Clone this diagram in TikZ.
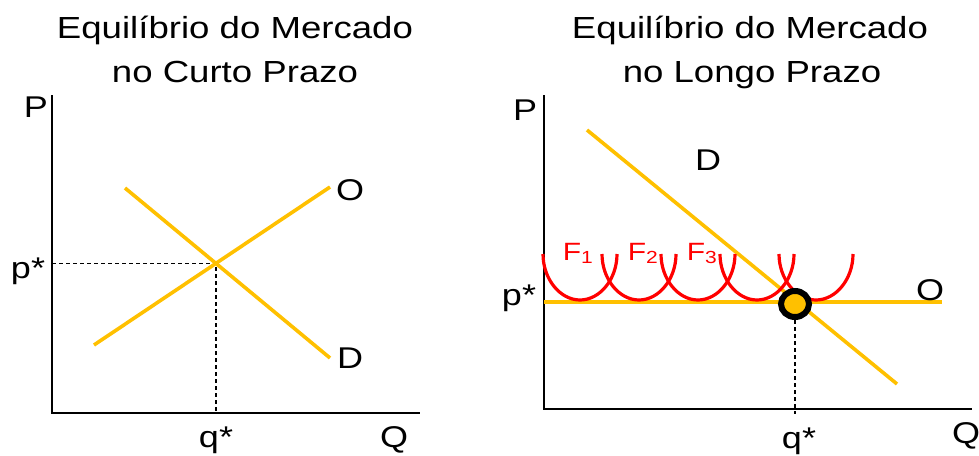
\documentclass[tikz,border=0pt]{standalone}
\usepackage{fontspec}
\setmainfont{Liberation Sans}[FakeStretch=1.2]
\usetikzlibrary{positioning,calc,shapes.geometric}
\definecolor{colCurva}{RGB}{255,192,0}
\definecolor{colFirma}{RGB}{255,0,0}
\definecolor{colEixo}{RGB}{0,0,0}

\begin{document}
\begin{tikzpicture}[x=1pt, y=-1pt,
    eixo/.style={line width=1.8pt, colEixo},
    cv/.style={line width=3.6pt, colCurva},
    tr/.style={line width=1.4pt, dash pattern=on 4pt off 3pt},
    cu/.style={line width=3.2pt, colFirma},
    tit/.style={font=\fontsize{30.5}{36}\selectfont, anchor=base, inner sep=0pt},
    rot/.style={font=\fontsize{30}{36}\selectfont, anchor=base, inner sep=0pt},
    fi/.style={font=\fontsize{25}{30}\selectfont, anchor=base, inner sep=0pt,
      colFirma},
    eqp/.style={ellipse, draw=black, line width=6pt, fill=colCurva,
      minimum width=28pt, minimum height=26pt, inner sep=0pt}]
    \useasboundingbox (0,0) rectangle (979,455);

    \node[tit] (t1a) at (235,38) {Equilíbrio do Mercado};
    \node[tit] (t1b) at (235,82) {no Curto Prazo};
    \node[tit] (t2a) at (750,38) {Equilíbrio do Mercado};
    \node[tit] (t2b) at (752,82) {no Longo Prazo};

    \coordinate (o1) at (52,413);
    \coordinate (p1) at (52,95);
    \coordinate (q1) at (420,413);
    \draw[eixo] (p1) -- (o1) -- (q1);
    \coordinate (s1a) at (94,345);
    \coordinate (s1b) at (330,187);
    \coordinate (d1a) at (125,188);
    \coordinate (d1b) at (330,358);
    \coordinate (e1) at (intersection of s1a--s1b and d1a--d1b);
    \draw[tr] (e1 -| o1) -- (e1) -- (e1 |- o1);
    \draw[cv] (s1a) -- (s1b);
    \draw[cv] (d1a) -- (d1b);
    \node[rot] (lp1) at (36,117) {P};
    \node[rot] (lps1) at (28,278) {p*};
    \node[rot] (lqs1) at (216,447) {q*};
    \node[rot] (lq1) at (394,447) {Q};
    \node[rot] (lo1) at (350,200) {O};
    \node[rot] (ld1) at (350,368) {D};

    \coordinate (o2) at (544,409);
    \coordinate (p2) at (544,95);
    \coordinate (q2) at (972,409);
    \draw[eixo] (p2) -- (o2) -- (q2);
    \coordinate (s2a) at (544,302);
    \coordinate (s2b) at (942,302);
    \coordinate (d2a) at (587,130);
    \coordinate (d2b) at (897,384);
    \draw[cv] (s2a) -- (s2b);
    \draw[cv] (d2a) -- (d2b);
    \foreach \c in {580,639,698,757,816}
      \draw[cu] (\c-37,254) .. controls (\c-37,279) and (\c-20,300) .. (\c,300)
        .. controls (\c+20,300) and (\c+37,279) .. (\c+37,254);
    \node[eqp] (eq) at (795,304) {};
    \draw[tr] (eq.south) -- ([yshift=-5pt]eq.south |- o2);
    \node[rot] (lp2) at (525,120) {P};
    \node[rot] (lps2) at (519,305) {p*};
    \node[rot] (lqs2) at (799,448) {q*};
    \node[rot] (lq2) at (966,443) {Q};
    \node[rot] (lo2) at (930,300) {O};
    \node[rot] (ld2) at (708,170) {D};
    \node[fi] (f1) at (578,260) {F\textsubscript{1}};
    \node[fi] (f2) at (643,260) {F\textsubscript{2}};
    \node[fi] (f3) at (702,260) {F\textsubscript{3}};
  \end{tikzpicture}
\end{document}
